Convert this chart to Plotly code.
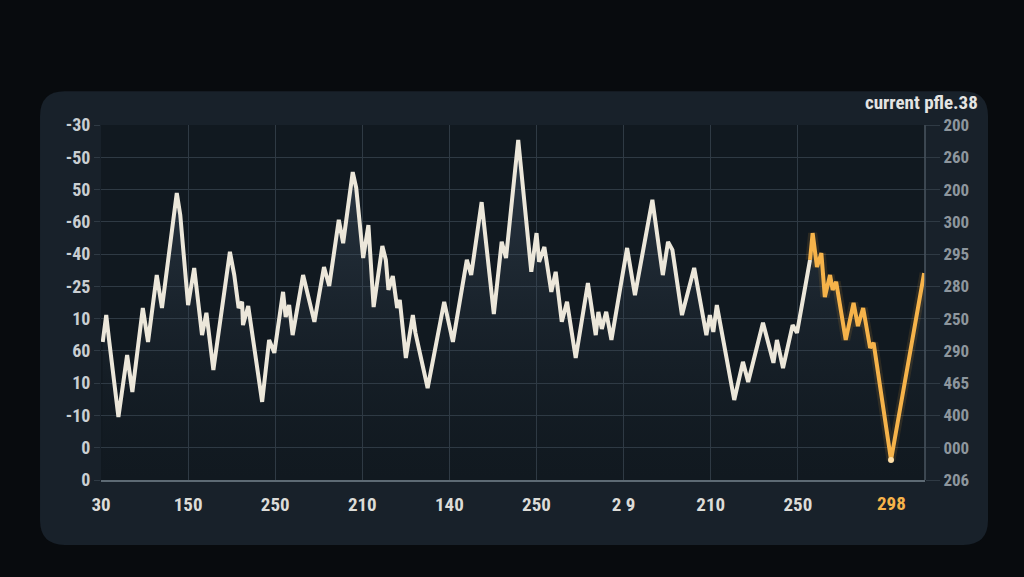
import plotly.graph_objects as go

# main (cream) series
x_main = [0.02, 0.06, 0.09, 0.20, 0.30, 0.36, 0.48, 0.54, 0.64, 0.70,
          0.87, 0.91, 1.00, 1.07, 1.16, 1.21, 1.29, 1.48, 1.53, 1.58,
          1.62, 1.63, 1.69, 1.85, 1.93, 1.99, 2.09, 2.12, 2.16, 2.20,
          2.32, 2.45, 2.56, 2.62, 2.73, 2.78, 2.89, 2.93, 3.01, 3.07,
          3.13, 3.23, 3.27, 3.30, 3.35, 3.40, 3.43, 3.50, 3.58, 3.61,
          3.75, 3.94, 4.04, 4.20, 4.25, 4.37, 4.51, 4.60, 4.65, 4.79,
          4.94, 5.00, 5.03, 5.09, 5.17, 5.22, 5.29, 5.35, 5.45, 5.59,
          5.68, 5.71, 5.75, 5.80, 5.86, 6.04, 6.13, 6.33, 6.45, 6.51,
          6.56, 6.67, 6.81, 6.95, 6.99, 7.03, 7.07, 7.27, 7.37, 7.43,
          7.60, 7.72, 7.76, 7.83, 7.94, 7.99, 8.14]
y_main = [4.28, 5.11, 4.40, 1.95, 3.87, 2.73, 5.33, 4.28, 6.35, 5.33,
          8.89, 8.21, 5.42, 6.57, 4.49, 5.18, 3.41, 7.07, 6.35, 5.33,
          5.52, 4.80, 5.39, 2.42, 4.34, 3.94, 5.83, 5.05, 5.42, 4.49,
          6.35, 4.90, 6.60, 6.01, 8.06, 7.34, 9.54, 9.05, 6.88, 7.90,
          5.36, 7.25, 6.82, 5.89, 6.32, 5.33, 5.58, 3.78, 5.11, 4.56,
          2.85, 5.52, 4.28, 6.82, 6.35, 8.61, 5.14, 7.38, 6.88, 10.54,
          6.45, 7.65, 6.76, 7.22, 5.83, 6.45, 4.90, 5.52, 3.78, 6.10,
          4.49, 5.21, 4.68, 5.21, 4.34, 7.19, 5.73, 8.68, 6.35, 7.38,
          7.13, 5.11, 6.57, 4.49, 5.11, 4.59, 5.42, 2.48, 3.66, 3.04,
          4.87, 3.63, 4.34, 3.47, 4.80, 4.56, 6.82]

# highlighted (orange) tail
x_tail = [8.14, 8.17, 8.22, 8.27, 8.31, 8.37, 8.40, 8.44, 8.55, 8.64,
          8.69, 8.75, 8.83, 8.87, 9.07, 9.45]
y_tail = [6.82, 7.65, 6.60, 7.03, 5.67, 6.35, 5.89, 6.14, 4.34, 5.49,
          4.77, 5.33, 4.09, 4.25, 0.62, 6.41]

x_ticks = [0, 1, 2, 3, 4, 5, 6, 7, 8]
x_labels = ["30", "150", "250", "210", "140", "250", "2 9", "210", "250"]
current_label = "298"

y_ticks = list(range(12))
left_labels = ["-30", "-50", "50", "-60", "-40", "-25", "10", "60", "10", "-10", "0", "0"][::-1]
right_labels = ["200", "260", "200", "300", "295", "280", "250", "290", "465", "400", "000", "206"][::-1]

title_text = "current pfle.38"

CREAM = "#ece7da"
ORANGE = "#f6b34a"
GRID = "#2f3a44"
FONT = "Liberation Sans Narrow, Roboto Condensed, Roboto"
BG = "#080b0e"

fig = go.Figure()

# soft fill under the whole curve
fig.add_trace(go.Scatter(
    x=x_main + x_tail[1:], y=y_main + y_tail[1:],
    mode="lines", line=dict(width=0),
    fill="tozeroy",
    fillgradient=dict(type="vertical",
                      colorscale=[[0, "rgba(30,42,54,0.0)"], [1, "rgba(80,98,118,0.45)"]]),
    hoverinfo="skip", showlegend=False))

# faint glow on the orange tail
fig.add_trace(go.Scatter(x=x_tail, y=y_tail, mode="lines",
                         line=dict(color="rgba(246,170,60,0.12)", width=9),
                         hoverinfo="skip", showlegend=False))

fig.add_trace(go.Scatter(x=x_main, y=y_main, mode="lines",
                         line=dict(color=CREAM, width=4), showlegend=False))
fig.add_trace(go.Scatter(x=x_tail, y=y_tail, mode="lines",
                         line=dict(color=ORANGE, width=4), showlegend=False))

# dot at the bottom of the V
i_low = y_tail.index(min(y_tail))
fig.add_trace(go.Scatter(x=[x_tail[i_low]], y=[y_tail[i_low]], mode="markers",
                         marker=dict(color="#ffe0a8", size=6),
                         showlegend=False))

# invisible trace so the right-hand axis gets drawn
fig.add_trace(go.Scatter(x=[x_main[0]], y=[y_main[0]], yaxis="y2", mode="markers",
                         marker=dict(opacity=0), hoverinfo="skip", showlegend=False))

# rounded panel behind the chart (paper coords)
x0, x1, y0, y1 = -0.074, 1.0765, -0.183, 1.095
dx, dy = 0.030, 0.070
panel = (f"M {x0+dx},{y1} L {x1-dx},{y1} Q {x1},{y1} {x1},{y1-dy} "
         f"L {x1},{y0+dy} Q {x1},{y0} {x1-dx},{y0} L {x0+dx},{y0} "
         f"Q {x0},{y0} {x0},{y0+dy} L {x0},{y1-dy} Q {x0},{y1} {x0+dx},{y1} Z")
fig.add_shape(type="path", path=panel, xref="paper", yref="paper",
              fillcolor="#18212a", line=dict(width=0), layer="below")
fig.add_shape(type="rect", x0=0, x1=1, y0=0, y1=1, xref="paper", yref="paper",
              fillcolor="#111920", line=dict(width=0), layer="below")
# right frame line
fig.add_shape(type="line", x0=1, x1=1, y0=0, y1=1, xref="paper", yref="paper",
              line=dict(color="#4a5660", width=1.5))

fig.add_annotation(text=title_text, xref="paper", yref="paper",
                   x=1.067, y=1.062, xanchor="right", yanchor="middle",
                   showarrow=False,
                   font=dict(family=FONT, size=19, color="#e4e4e2", weight=700))
fig.add_annotation(text=current_label, xref="x", yref="paper",
                   x=x_tail[i_low], y=-0.065, xanchor="center", yanchor="middle",
                   showarrow=False,
                   font=dict(family=FONT, size=19, color=ORANGE, weight=700))

fig.update_layout(
    width=1024, height=577,
    margin=dict(l=101, r=99, t=125, b=97),
    paper_bgcolor=BG,
    plot_bgcolor="rgba(0,0,0,0)",
    showlegend=False,
    xaxis=dict(range=[0, 9.46], tickvals=x_ticks, ticktext=x_labels,
               showgrid=True, gridcolor=GRID, gridwidth=1,
               zeroline=False, showline=True, linecolor="#5d6a74", linewidth=2,
               ticks="", ticklabelstandoff=6,
               tickfont=dict(family=FONT, size=19, color="#dcdcd8", weight=700),
               fixedrange=True),
    yaxis=dict(range=[0, 11], tickvals=y_ticks, ticktext=left_labels,
               showgrid=True, gridcolor=GRID, gridwidth=1,
               zeroline=False, showline=False,
               ticks="outside", ticklen=6, tickcolor=GRID,
               tickfont=dict(family=FONT, size=18, color="#c9ced2", weight=700),
               fixedrange=True),
    yaxis2=dict(range=[0, 11], tickvals=y_ticks, ticktext=right_labels,
                overlaying="y", side="right", showgrid=False,
                zeroline=False, showline=False,
                ticks="outside", ticklen=14, tickcolor=GRID,
                tickfont=dict(family=FONT, size=17, color="#8d969d", weight=700),
                fixedrange=True),
)

fig.write_html(
    "out.html",
    config={"displayModeBar": False},
    post_script=f"document.body.style.margin='0';document.body.style.background='{BG}';"
                "document.body.style.overflow='hidden';",
)
